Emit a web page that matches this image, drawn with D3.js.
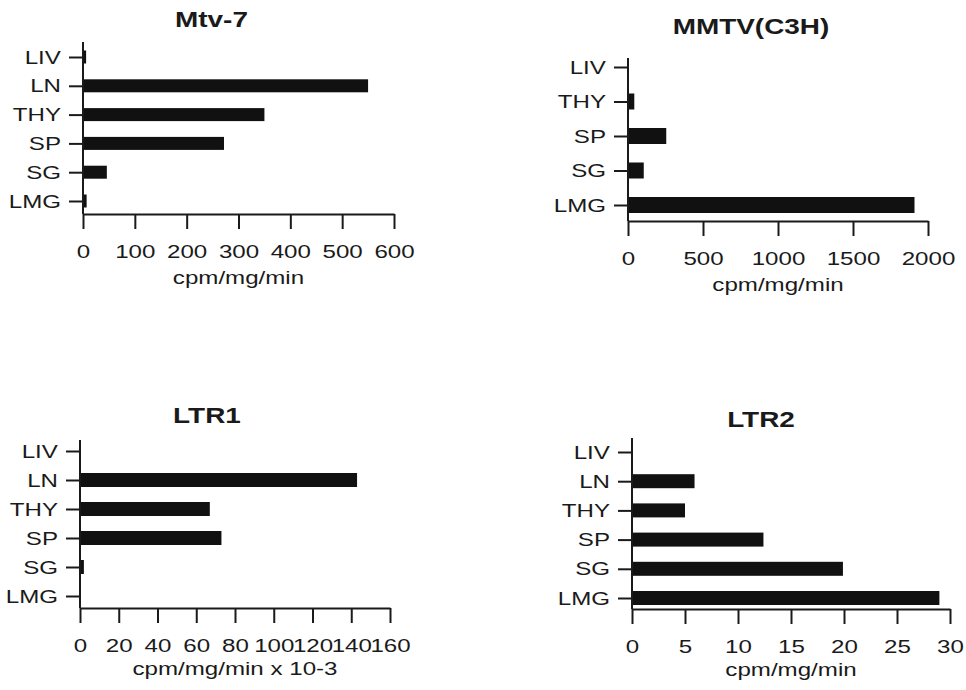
<!DOCTYPE html>
<html>
<head>
<meta charset="utf-8">
<script src="https://cdn.jsdelivr.net/npm/d3@7"></script>
<style>
  body { margin: 0; background: #fff; }
  svg { font-family: "Liberation Sans", Arial, sans-serif; }
  text { transform-box: fill-box; transform-origin: center; transform: scaleX(1.27); fill: #1a1a1a; }
  .ylab text { transform-origin: right center; }
</style>
</head>
<body>
<div id="chart"></div>
<script>
// data
const titles = ["Mtv-7", "MMTV(C3H)", "LTR1", "LTR2"]
const axisTitles = ["cpm/mg/min", "cpm/mg/min", "cpm/mg/min x 10-3", "cpm/mg/min"]

const tissues6 = ["LIV", "LN", "THY", "SP", "SG", "LMG"]
const tissues5 = ["LIV", "THY", "SP", "SG", "LMG"]

const mtv7Values = [6, 550, 350, 272, 46, 7]
const mmtvValues = [0, 42, 255, 105, 1910]
const ltr1Values = [0, 143, 67, 73, 2, 0]
const ltr2Values = [0, 5.9, 5, 12.4, 19.9, 29]

const mtv7Ticks = [0, 100, 200, 300, 400, 500, 600]
const mmtvTicks = [0, 500, 1000, 1500, 2000]
const ltr1Ticks = [0, 20, 40, 60, 80, 100, 120, 140, 160]
const ltr2Ticks = [0, 5, 10, 15, 20, 25, 30]

// layout for each panel (pixels)
const panels = [
    { cats: tissues6, vals: mtv7Values, ticks: mtv7Ticks, x0: 83, x1: 394, top: 42, axisY: 214, c0: 57, c1: 201, barH: 13, titleY: 27, titleShift: 27 },
    { cats: tissues5, vals: mmtvValues, ticks: mmtvTicks, x0: 628, x1: 928, top: 58, axisY: 221, c0: 67, c1: 205, barH: 16, titleY: 34, titleShift: 27 },
    { cats: tissues6, vals: ltr1Values, ticks: ltr1Ticks, x0: 80, x1: 390, top: 440, axisY: 608, c0: 451, c1: 596, barH: 14, titleY: 423, titleShift: 28 },
    { cats: tissues6, vals: ltr2Values, ticks: ltr2Ticks, x0: 632, x1: 950, top: 438, axisY: 609, c0: 452, c1: 598, barH: 14, titleY: 427, titleShift: 30 }
]

const width = 966, height = 690
const ink = "#1a1a1a"

let svg = d3.select("#chart")
    .append("svg")
    .attr("width", width)
    .attr("height", height)

panels.forEach((p, i) => {
    let g = svg.append("g")

    let x = d3.scaleLinear()
        .domain([0, d3.max(p.ticks)])
        .range([p.x0, p.x1])

    let y = d3.scalePoint()
        .domain(p.cats)
        .range([p.c0, p.c1])

    // bars
    g.selectAll("rect")
        .data(p.cats.map((c, j) => ({ cat: c, v: p.vals[j] })))
        .enter()
        .append("rect")
        .attr("x", x(0))
        .attr("y", d => y(d.cat) - p.barH / 2)
        .attr("width", d => x(d.v) - x(0))
        .attr("height", p.barH)
        .attr("fill", "#111")

    // x axis
    let xAxis = g.append("g")
        .attr("transform", `translate(0, ${p.axisY})`)
        .call(d3.axisBottom(x).tickValues(p.ticks).tickSize(15).tickSizeOuter(0).tickFormat(d3.format("d")))
    xAxis.selectAll("line, path").attr("stroke", ink).attr("stroke-width", 2)
    xAxis.selectAll("text")
        .attr("y", 44)
        .attr("dy", 0)
        .attr("font-size", 19)
        .attr("fill", ink)

    // y axis
    let yAxis = g.append("g")
        .attr("class", "ylab")
        .attr("transform", `translate(${p.x0}, 0)`)
        .call(d3.axisLeft(y).tickSize(14).tickPadding(8))
    yAxis.select(".domain").remove()
    yAxis.selectAll("line").attr("stroke", ink).attr("stroke-width", 2)
    yAxis.selectAll("text").attr("font-size", 19).attr("fill", ink)
    yAxis.append("line")
        .attr("x1", 0).attr("x2", 0)
        .attr("y1", p.top).attr("y2", p.axisY)
        .attr("stroke", ink)
        .attr("stroke-width", 2)

    // titles
    g.append("text")
        .attr("x", (p.x0 + p.x1) / 2 - p.titleShift)
        .attr("y", p.titleY)
        .attr("text-anchor", "middle")
        .attr("font-size", 22)
        .attr("font-weight", "bold")
        .text(titles[i])

    g.append("text")
        .attr("x", (p.x0 + p.x1) / 2)
        .attr("y", p.axisY + (i < 2 ? 70 : 67))
        .attr("text-anchor", "middle")
        .attr("font-size", 19)
        .text(axisTitles[i])
})
</script>
</body>
</html>
